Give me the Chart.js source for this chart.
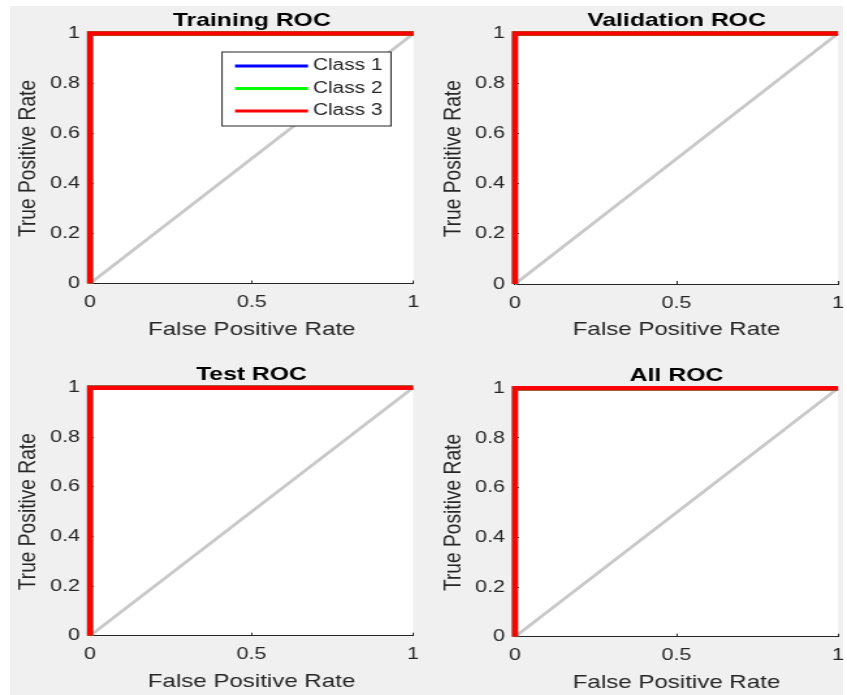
<!DOCTYPE html>
<html>
<head>
<meta charset="utf-8">
<title>ROC</title>
<script src="https://cdn.jsdelivr.net/npm/chart.js@4.4.1/dist/chart.umd.min.js"></script>
<style>
body { margin: 0; background: #ffffff; }
#figure { position: relative; width: 847px; height: 695px; overflow: hidden; }
#backdrop { position: absolute; left: 10px; top: 6px; width: 833px; height: 689px; background: #f0f0f0; }
#figure canvas { position: absolute; }
</style>
</head>
<body>
<div id="figure">
  <div id="backdrop"></div>
  <canvas id="trainingRoc"></canvas>
  <canvas id="validationRoc"></canvas>
  <canvas id="testRoc"></canvas>
  <canvas id="allRoc"></canvas>
</div>
<script>
var panelTitles = ['Training ROC', 'Validation ROC', 'Test ROC', 'All ROC'];
var classNames = ['Class 1', 'Class 2', 'Class 3'];
// every class is separated perfectly in every split, so all curves hug the top-left corner
var rocFpr = [0, 0, 1];
var rocTpr = [0, 1, 1];
var chanceFpr = [0, 1];
var chanceTpr = [0, 1];
var xTicks = [0, 0.5, 1];
var yTicks = [0, 0.2, 0.4, 0.6, 0.8, 1];

var classColors = ['#0000ff', '#00ff00', '#ff0000'];
var axisColor = '#262626';
var fontFamily = '"Liberation Sans", Arial, sans-serif';

// the source figure was resized wider than tall, so each canvas is drawn narrow and stretched by css
var CSS_W = 423, CSS_H = 347, STRETCH = 1.3;
var panels = [
    {id: 'trainingRoc', left: 0, top: 0, area: {l: 90, t: 33.5, r: 413.5, b: 283.5}, legend: true},
    {id: 'validationRoc', left: 424, top: 0, area: {l: 91, t: 33.5, r: 414, b: 284}, legend: false},
    {id: 'testRoc', left: 0, top: 348, area: {l: 90, t: 39.7, r: 413, b: 287.7}, legend: false},
    {id: 'allRoc', left: 424, top: 348, area: {l: 91, t: 40.3, r: 414, b: 288.7}, legend: false}
];

function points(xs, ys) {
    return xs.map(function(x, i) { return {x: x, y: ys[i]}; });
}

function tickText(value) {
    return String(Math.round(value * 100) / 100);
}

var whitePlot = {
    id: 'whitePlot',
    beforeDraw: function(chart) {
        var ca = chart.chartArea;
        chart.ctx.save();
        chart.ctx.fillStyle = '#ffffff';
        chart.ctx.fillRect(ca.left, ca.top, ca.right - ca.left, ca.bottom - ca.top);
        chart.ctx.restore();
    }
};

// matlab puts the legend inside the axes, top right
var insideLegend = {
    id: 'insideLegend',
    afterDatasetsDraw: function(chart, args, opts) {
        if (!opts.display) {
            return;
        }
        var ctx = chart.ctx;
        var ca = chart.chartArea;
        var sx = opts.stretch;
        var w = 169 / sx, h = 74;
        var x0 = ca.right - 22.5 / sx - w;
        var y0 = ca.top + 18.5;
        ctx.save();
        ctx.fillStyle = '#ffffff';
        ctx.fillRect(x0, y0, w, h);
        ctx.strokeStyle = axisColor;
        ctx.lineWidth = 1;
        ctx.strokeRect(x0, y0, w, h);
        var items = chart.data.datasets.filter(function(d) { return classNames.indexOf(d.label) >= 0; });
        items.forEach(function(d, i) {
            var y = y0 + 14 + i * 22.5;
            ctx.strokeStyle = d.borderColor;
            ctx.lineWidth = 3;
            ctx.beginPath();
            ctx.moveTo(x0 + 13 / sx, y);
            ctx.lineTo(x0 + 86 / sx, y);
            ctx.stroke();
            ctx.fillStyle = axisColor;
            ctx.font = '16px ' + fontFamily;
            ctx.textAlign = 'left';
            ctx.textBaseline = 'middle';
            ctx.fillText(d.label, x0 + 91 / sx, y);
        });
        ctx.restore();
    }
};

function makeRoc(panel, title) {
    var canvas = document.getElementById(panel.id);
    canvas.width = Math.round(CSS_W / STRETCH);
    canvas.height = CSS_H;
    canvas.style.left = panel.left + 'px';
    canvas.style.top = panel.top + 'px';
    canvas.style.width = CSS_W + 'px';
    canvas.style.height = CSS_H + 'px';

    var sx = CSS_W / canvas.width;
    var a = panel.area;
    var titleFont = 19, labelFont = 18.5, yLabelFont = 19.2, tickFont = 16.5;

    var datasets = classNames.map(function(name, i) {
        return {
            label: name,
            data: points(rocFpr, rocTpr),
            borderColor: classColors[i],
            borderWidth: 4.5,
            clip: 6,
            order: classNames.length - i
        };
    });
    datasets.push({
        label: 'chance',
        data: points(chanceFpr, chanceTpr),
        borderColor: '#c8c8c8',
        borderWidth: 2.7,
        clip: 3,
        order: 10
    });

    new Chart(canvas, {
        type: 'scatter',
        data: { datasets: datasets },
        plugins: [whitePlot, insideLegend],
        options: {
            responsive: false,
            animation: false,
            showLine: true,
            elements: {
                point: { radius: 0 },
                line: { borderJoinStyle: 'miter', borderCapStyle: 'butt', tension: 0 }
            },
            layout: { autoPadding: false, padding: 0 },
            plugins: {
                legend: { display: false },
                tooltip: { enabled: false },
                title: {
                    display: true,
                    text: title,
                    fullSize: false,
                    color: '#000000',
                    font: { family: fontFamily, size: titleFont, weight: 'bold', lineHeight: 1.2 },
                    padding: { top: a.t - 12.5 - titleFont * 0.6, bottom: 12.5 - titleFont * 0.6 }
                },
                insideLegend: { display: panel.legend, stretch: sx }
            },
            scales: {
                x: {
                    type: 'linear',
                    min: 0,
                    max: 1,
                    afterBuildTicks: function(scale) {
                        scale.ticks = xTicks.map(function(v) { return {value: v}; });
                    },
                    afterFit: function(scale) {
                        scale.height = CSS_H - a.b;
                        scale.paddingLeft = 0;
                        scale.paddingRight = (CSS_W - a.r) / sx;
                    },
                    grid: { drawOnChartArea: false, drawTicks: true, tickLength: -3, color: axisColor, lineWidth: 1 },
                    border: { display: true, color: axisColor, width: 1 },
                    ticks: {
                        color: axisColor,
                        padding: 19 + 3 - tickFont * 0.6,
                        maxRotation: 0,
                        callback: tickText,
                        font: { family: fontFamily, size: tickFont, lineHeight: 1.2 }
                    },
                    title: {
                        display: true,
                        text: 'False Positive Rate',
                        color: axisColor,
                        font: { family: fontFamily, size: labelFont, lineHeight: 1.2 },
                        padding: { top: 0, bottom: CSS_H - a.b - 46 - labelFont * 0.6 }
                    }
                },
                y: {
                    type: 'linear',
                    min: 0,
                    max: 1,
                    afterBuildTicks: function(scale) {
                        scale.ticks = yTicks.map(function(v) { return {value: v}; });
                    },
                    afterFit: function(scale) {
                        scale.width = a.l / sx;
                    },
                    grid: { drawOnChartArea: false, drawTicks: true, tickLength: -3, color: axisColor, lineWidth: 1 },
                    border: { display: true, color: axisColor, width: 1 },
                    ticks: {
                        color: axisColor,
                        padding: 3 + 10 / sx,
                        callback: tickText,
                        font: { family: fontFamily, size: tickFont, lineHeight: 1.2 }
                    },
                    title: {
                        display: true,
                        text: 'True Positive Rate',
                        color: axisColor,
                        font: { family: fontFamily, size: yLabelFont, lineHeight: 1.2 },
                        padding: { top: (a.l - 62) / sx - yLabelFont * 0.6, bottom: 0 }
                    }
                }
            }
        }
    });
}

panels.forEach(function(panel, i) {
    makeRoc(panel, panelTitles[i]);
});
</script>
</body>
</html>
